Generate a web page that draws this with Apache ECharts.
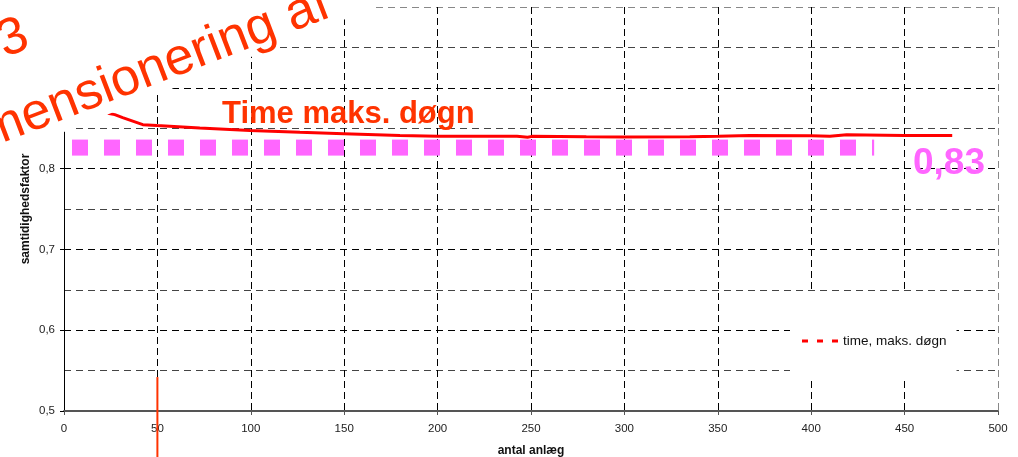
<!DOCTYPE html>
<html>
<head>
<meta charset="utf-8">
<script src="https://cdn.jsdelivr.net/npm/echarts@6/dist/echarts.min.js"></script>
<style>
html,body{margin:0;padding:0;background:#fff;}
#chart{width:1018px;height:457px;}
</style>
</head>
<body>
<div id="chart"></div>
<script>
// ---- data ----
const xTicks = [0, 50, 100, 150, 200, 250, 300, 350, 400, 450, 500];
const yTicks = ['0,5', '0,6', '0,7', '0,8'];
const seriesName = 'time, maks. døgn';
const timeX = [23.4, 27.2, 31.4, 42.2, 49.7, 72.7, 99.5, 126.3, 149.8, 179.8, 200.2, 242.5, 248.2, 250.5, 279.6, 299.8, 335, 350.2, 367, 400, 410, 419, 449.8, 460, 475.5];
const timeY = [0.8684, 0.8668, 0.8631, 0.8544, 0.8532, 0.8503, 0.8473, 0.8449, 0.8432, 0.8411, 0.8399, 0.8399, 0.8389, 0.8399, 0.8393, 0.8392, 0.8394, 0.8399, 0.8411, 0.8408, 0.8399, 0.8420, 0.8411, 0.8411, 0.8411];
const designX = [4.28, 433.7];
const designY = [0.826, 0.826];
const markerX = [50, 50];
const markerY = [0.542, 0.44];
const designLabel = '0,83';
const curveLabel = 'Time maks. døgn';
const overlayLine1 = '3';
const overlayLine2 = 'dimensionering af';

const zip = (a, b) => a.map((v, i) => [v, b[i]]);
const FONT = 'Liberation Sans, Arial, sans-serif';
const ang = 21 * Math.PI / 180;

const chart = echarts.init(document.getElementById('chart'));
chart.setOption({
  animation: false,
  backgroundColor: '#fff',
  textStyle: { fontFamily: FONT },
  grid: { left: 64, right: 20, top: 7, bottom: 46, containLabel: false, outerBoundsMode: 'none' },
  xAxis: {
    type: 'value', min: 0, max: 500, interval: 50,
    name: 'antal anlæg', nameLocation: 'middle', nameGap: 34,
    nameTextStyle: { fontFamily: FONT, fontWeight: 'bold', fontSize: 12, color: '#111' },
    axisLine: { show: true, lineStyle: { color: '#555', width: 2 } },
    axisTick: { show: true, length: 4, lineStyle: { color: '#555' } },
    axisLabel: { fontFamily: FONT, fontSize: 11.5, color: '#222', margin: 12,
      formatter: v => xTicks.indexOf(v) >= 0 ? String(v) : '' },
    splitLine: { show: true, lineStyle: { color: ['#000','#000','#000','#000','#000','#000','#000','#000','#000','#000','#888'], type: [7, 4], width: 1 } }
  },
  yAxis: {
    type: 'value', min: 0.5, max: 1.0, interval: 0.1,
    name: 'samtidighedsfaktor', nameLocation: 'middle', nameGap: 32, nameMoveOverlap: false,
    nameTextStyle: { fontFamily: FONT, fontWeight: 'bold', fontSize: 12, color: '#111' },
    axisLine: { show: true, lineStyle: { color: '#000', width: 1 } },
    axisTick: { show: true, length: 4, lineStyle: { color: '#000' } },
    axisLabel: { fontFamily: FONT, fontSize: 11.5, color: '#222', margin: 9,
      formatter: v => { const i = Math.round((v - 0.5) * 10); return yTicks[i] || ''; } },
    splitLine: { show: true, lineStyle: { color: ['#000','#000','#000','#000','#000','#888'], type: [7, 5], width: 1 } },
    minorTick: { show: false, splitNumber: 2 },
    minorSplitLine: { show: true, lineStyle: { color: '#444', type: [7, 5], width: 1 } }
  },
  legend: {
    data: [{ name: seriesName, icon: 'path://M0,0h6v3h-6z M15,0h6v3h-6z M30,0h6v3h-6z' }],
    left: 790, top: 291, padding: [43, 10, 33, 12], backgroundColor: '#fff',
    itemWidth: 36, itemHeight: 3,
    textStyle: { fontFamily: FONT, fontSize: 13.5, color: '#111' },
    selectedMode: false
  },
  series: [
    { name: 'dimensionering', type: 'line', data: zip(designX, designY), symbol: 'none', z: 2,
      lineStyle: { color: '#FF66FF', width: 16, type: [16, 16], cap: 'butt' }, itemStyle: { color: '#FF66FF' }, silent: true },
    { name: seriesName, type: 'line', data: zip(timeX, timeY), symbol: 'none', z: 3,
      lineStyle: { color: '#FF0000', width: 3 }, itemStyle: { color: '#FF0000' } },
    { name: 'markering', type: 'line', data: zip(markerX, markerY), symbol: 'none', clip: false, z: 3,
      lineStyle: { color: '#FF3300', width: 2 }, itemStyle: { color: '#FF3300' } }
  ],
  graphic: [
    { type: 'polygon', z: 100, shape: { points: [[0,0],[393,0],[64,132],[0,157]] }, style: { fill: '#fff' }, silent: true },
    { type: 'text', z: 101, x: -46, y: 174, rotation: ang,
      style: { text: overlayLine2, font: '52px ' + FONT, fill: '#FF3300', align: 'left', verticalAlign: 'bottom' } },
    { type: 'text', z: 101, x: 13, y: 39, rotation: ang,
      style: { text: overlayLine1, font: '52px ' + FONT, fill: '#FF3300', align: 'center', verticalAlign: 'middle' } },
    { type: 'text', z: 101, x: 222, y: 114,
      style: { text: curveLabel, font: 'bold 31px ' + FONT, fill: '#FF3300', align: 'left', verticalAlign: 'middle' } },
    { type: 'text', z: 101, x: 913, y: 164,
      style: { text: designLabel, font: 'bold 37px ' + FONT, fill: '#FF66FF', align: 'left', verticalAlign: 'middle' } }
  ]
});
</script>
</body>
</html>
